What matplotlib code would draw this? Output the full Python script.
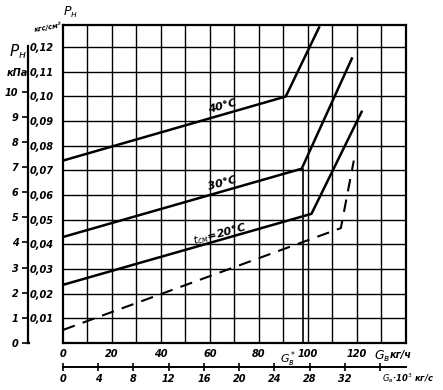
import matplotlib.pyplot as plt

# curves: flow G_B (kg/h) vs pressure P_n (kgf/cm2)
g_40 = [0, 91, 104.6]
p_40 = [0.074, 0.100, 0.128]
g_30 = [0, 97.5, 118]
p_30 = [0.043, 0.0707, 0.1154]
g_20 = [0, 101.5, 122]
p_20 = [0.0236, 0.0524, 0.0938]
g_dash = [0, 113.5, 118.8]
p_dash = [0.0053, 0.0466, 0.074]
g_star = 98

x_ticks = [0, 20, 40, 60, 80, 100, 120]
y_ticks = [0.01, 0.02, 0.03, 0.04, 0.05, 0.06, 0.07, 0.08, 0.09, 0.10, 0.11, 0.12]
y_labels = ["0,01", "0,02", "0,03", "0,04", "0,05", "0,06", "0,07", "0,08", "0,09", "0,10", "0,11", "0,12"]
kpa_ticks = [0, 1, 2, 3, 4, 5, 6, 7, 8, 9, 10]
kgs_ticks = [0, 4, 8, 12, 16, 20, 24, 28, 32, 36]
kgs_labels = ["0", "4", "8", "12", "16", "20", "24", "28", "32", ""]

W, H = 443, 390
fig = plt.figure(figsize=(4.43, 3.9), dpi=100)
font = dict(style="italic", fontweight="bold", family="DejaVu Sans")

# main axes
ax = fig.add_axes([63 / W, 1 - 343 / H, (405.7 - 63) / W, (343 - 25) / H])
ax.set_xlim(0, 140)
ax.set_ylim(0, 0.129)
for v in range(10, 140, 10):
    ax.axvline(v, color="black", lw=1.0, zorder=1)
for v in y_ticks:
    ax.axhline(v, color="black", lw=1.0, zorder=1)
for s in ax.spines.values():
    s.set_linewidth(1.6)

ax.plot(g_40, p_40, color="black", lw=1.8, zorder=3)
ax.plot(g_30, p_30, color="black", lw=1.8, zorder=3)
ax.plot(g_20, p_20, color="black", lw=1.8, zorder=3)
ax.plot(g_dash, p_dash, color="black", lw=1.5, ls=(0, (6, 4)), zorder=3)
ax.plot([g_star, g_star], [0, p_30[1]], color="black", lw=1.2, zorder=3)

ax.text(65, 0.0959, "40°C", rotation=15, ha="center", va="center", fontsize=8, **font)
ax.text(65, 0.0648, "30°C", rotation=15, ha="center", va="center", fontsize=8, **font)
ax.text(64, 0.0444, "$t_{см}$=20°C", rotation=15, ha="center", va="center", fontsize=8, **font)

ax.set_xticks(x_ticks)
ax.set_xticklabels([str(v) for v in x_ticks], fontsize=7, **font)
ax.set_yticks(y_ticks)
ax.set_yticklabels(y_labels, fontsize=7, **font)
ax.tick_params(length=0, pad=4)
ax.tick_params(axis="y", pad=7)
ax.text(95.5, -0.0026, "$G_в^*$", ha="right", va="top", fontsize=8, **font)
ax.text(127, -0.0025, "$G_в$", ha="left", va="top", fontsize=9, **font)
ax.text(133.5, -0.0028, "кг/ч", ha="left", va="top", fontsize=7, **font)

# second flow axis in 10^-3 kg/s
ax2 = fig.add_axes([63 / W, 1 - 367 / H, (405.7 - 63) / W, 0.001])
ax2.set_xlim(0, 140 / 3.6)
ax2.set_ylim(0, 1)
for k in ["left", "right", "top"]:
    ax2.spines[k].set_visible(False)
ax2.spines["bottom"].set_linewidth(1.4)
ax2.set_yticks([])
ax2.set_xticks(kgs_ticks)
ax2.set_xticklabels(kgs_labels, fontsize=7, **font)
ax2.tick_params(axis="x", direction="inout", length=6, width=1.2, pad=2)
fig.text(382 / W, 1 - 378 / H, "$G_в$·10$^3$ кг/с", ha="left", va="center", fontsize=6, **font)

# kPa axis
ax3 = fig.add_axes([28 / W, 1 - 343 / H, 0.001, (343 - 25) / H])
ax3.set_ylim(0, 0.129 * 98.0665)
for k in ["right", "top", "bottom"]:
    ax3.spines[k].set_visible(False)
ax3.spines["left"].set_linewidth(1.6)
ax3.spines["left"].set_bounds(0, 11.8)
ax3.set_xticks([])
ax3.set_yticks(kpa_ticks)
ax3.set_yticklabels([str(v) for v in kpa_ticks], fontsize=7, **font)
ax3.tick_params(axis="y", length=4, width=1.2, pad=3)
ax3.plot([0, 1.5], [0, 0], color="black", lw=1.6, transform=ax3.get_yaxis_transform(), clip_on=False)

fig.text(18 / W, 1 - 52 / H, "$P_н$", ha="center", va="center", fontsize=11, **font)
fig.text(17 / W, 1 - 73 / H, "кПа", ha="center", va="center", fontsize=7, **font)
fig.text(70 / W, 1 - 12 / H, "$P_н$", ha="center", va="center", fontsize=9, **font)
fig.text(48 / W, 1 - 27 / H, "кгс/см²", ha="center", va="center", fontsize=5, rotation=10, **font)

fig.savefig("out.png", dpi=100)
